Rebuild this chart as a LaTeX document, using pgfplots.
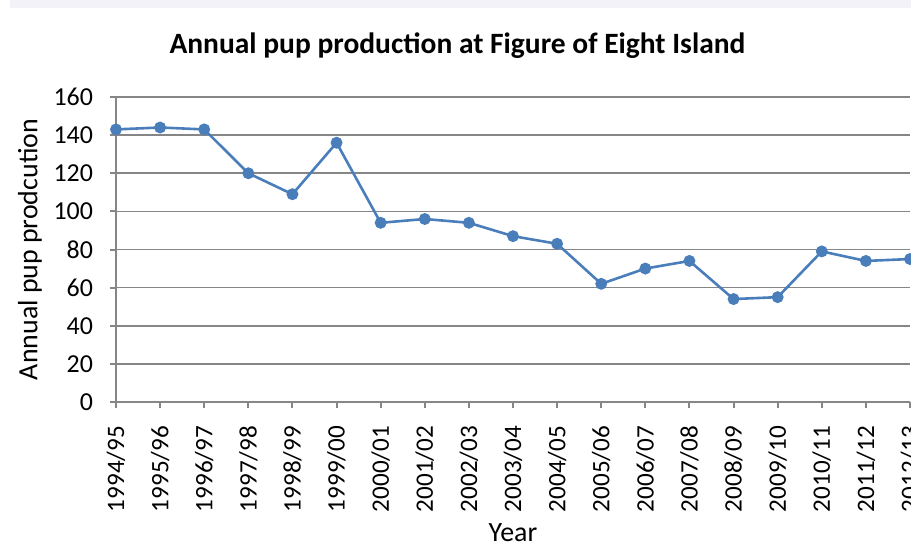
\documentclass[border=0pt]{standalone}
\usepackage{pgfplots}
\pgfplotsset{compat=1.18}
\usepackage{fontspec}
\setmainfont{Carlito}
\definecolor{serblue}{HTML}{4A7EBB}
\definecolor{gridgray}{HTML}{868686}
\definecolor{stripc}{HTML}{F3F2F8}
\begin{document}
\begin{tikzpicture}
\begin{axis}[
  name=ax,
  scale only axis,
  width=397bp, height=152.5bp,
  xmin=0, xmax=18, ymin=0, ymax=160,
  ytick={0,20,...,160},
  xtick=data,
  xticklabels={1994/95,1995/96,1996/97,1997/98,1998/99,1999/00,2000/01,2001/02,2002/03,2003/04,2004/05,2005/06,2006/07,2007/08,2008/09,2009/10,2010/11,2011/12,2012/13},
  xticklabel style={yshift=-5.5bp, rotate=90, anchor=east, font=\fontsize{12.6}{15}\selectfont},
  yticklabel style={xshift=-5bp, font=\fontsize{13}{15}\selectfont},
  /pgf/number format/assume math mode=true,
  axis x line*=bottom, axis y line*=left,
  axis line style={gridgray, line width=1bp},
  tick style={gridgray, line width=1bp},
  tick align=outside, major tick length=3bp,
  ymajorgrids, grid style={gridgray, line width=0.8bp},
  clip=false,
  title={Annual pup production at Figure of Eight Island},
  every axis title/.style={at={(axis description cs:0.43,1)}, yshift=25.5bp, anchor=center, font=\fontsize{14.8}{17}\selectfont\bfseries},
  xlabel={Year},
  every axis x label/.style={at={(axis description cs:0.5,0)}, yshift=-65.5bp, anchor=center, font=\fontsize{14}{16}\selectfont},
  ylabel={Annual pup prodcution},
  every axis y label/.style={at={(axis description cs:0,0.5)}, xshift=-43bp, rotate=90, anchor=center, font=\fontsize{14}{16}\selectfont},
]
\addplot[serblue, line width=1.3bp, mark=*, mark size=2.3bp, mark options={fill=serblue, draw=serblue}]
coordinates {
(0,143) (1,144) (2,143) (3,120) (4,109) (5,136) (6,94) (7,96) (8,94) (9,87)
(10,83) (11,62) (12,70) (13,74) (14,54) (15,55) (16,79) (17,74) (18,75)
};
\end{axis}
\pgfresetboundingbox
\useasboundingbox ([xshift=-58bp,yshift=-72bp]ax.south west) rectangle ([xshift=0.5bp,yshift=48.5bp]ax.north east);
\fill[stripc] ([xshift=-53bp,yshift=44.5bp]ax.north west) rectangle ([xshift=0.5bp,yshift=48.5bp]ax.north east);
\end{tikzpicture}
\end{document}
